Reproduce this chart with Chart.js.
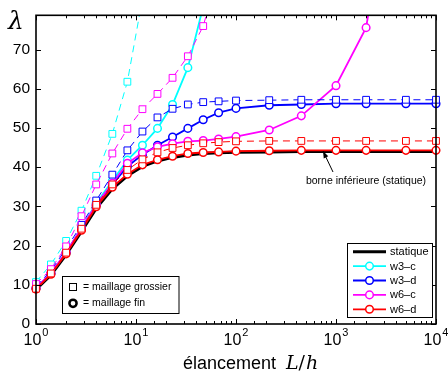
<!DOCTYPE html>
<html lang="fr">
<head>
  <meta charset="UTF-8">
  <title>élancement</title>
  <script src="https://cdn.jsdelivr.net/npm/chart.js"></script>
  <style>
    body { margin: 0; background: #fff; }
    #wrap { width: 448px; height: 372px; }
  </style>
</head>
<body>
  <div id="wrap"><canvas id="chart" width="448" height="372"></canvas></div>

  <script>
    // élancement L/h
    const xVals = [1, 1.41, 2, 2.85, 4, 5.8, 8.2, 11.6, 16.4, 23.2, 33, 47, 67, 100, 215, 450, 1000, 2000, 5000, 10000];

    const statique = [8.8, 12.5, 17.7, 23.6, 29.5, 34.5, 37.8, 40.2, 41.6, 42.5, 43.1, 43.5, 43.7, 43.8, 43.9, 44.0, 44.0, 44.0, 44.0, 44.0];

    // maillage fin (cercles)
    const w3cFin = [9.1, 12.9, 18.2, 24.5, 30.8, 36.5, 41.8, 45.6, 49.9, 56.0, 65.4, 81, null, null, null, null, null, null, null, null];
    const w3dFin = [9.1, 12.9, 18.2, 24.3, 30.3, 35.6, 40.2, 43.2, 45.6, 47.7, 49.9, 52.1, 53.9, 55.0, 55.8, 56.0, 56.2, 56.2, 56.2, 56.2];
    const w6cFin = [9.2, 13.0, 18.3, 24.4, 30.5, 35.9, 41.0, 43.7, 45.2, 46.0, 46.6, 46.8, 47.2, 47.8, 49.5, 53.1, 60.8, 75.6, 137, null];
    const w6dFin = [8.9, 12.7, 17.9, 23.9, 29.9, 34.9, 38.2, 40.6, 41.9, 42.8, 43.5, 43.75, 43.9, 44.1, 44.2, 44.3, 44.3, 44.3, 44.3, 44.3];

    // maillage grossier (carrés)
    const w3cGros = [10.7, 15.2, 21.2, 28.9, 37.8, 48.5, 61.8, 83, null, null, null, null, null, null, null, null, null, null, null, null];
    const w3dGros = [9.6, 13.6, 19.2, 25.3, 31.5, 38.1, 44.3, 49.1, 52.7, 54.9, 56.0, 56.6, 56.8, 57.0, 57.1, 57.2, 57.2, 57.2, 57.2, 57.2];
    const w6cGros = [10.2, 14.0, 19.8, 27.5, 35.6, 43.5, 49.8, 54.8, 58.7, 62.8, 68.3, 76.0, 90, null, null, null, null, null, null, null];
    const w6dGros = [9.0, 12.9, 18.2, 24.3, 30.4, 35.6, 39.3, 42.0, 43.8, 44.9, 45.6, 46.1, 46.4, 46.6, 46.7, 46.7, 46.7, 46.7, 46.7, 46.7];

    const yTicks = [0, 10, 20, 30, 40, 50, 60, 70];
    const xPowers = [0, 1, 2, 3, 4];

    const seriesNames = ['statique', 'w3–c', 'w3–d', 'w6–c', 'w6–d'];
    const seriesColors = ['#000000', '#00ffff', '#0000ff', '#ff00ff', '#ff0000'];

    const SANS = '"Liberation Sans", Arial, sans-serif';
    const SERIF = '"DejaVu Serif", serif';

    function pts(ys) {
      return xVals.map((x, i) => ({ x: x, y: ys[i] })).filter(p => p.y !== null);
    }

    function fin(label, ys, color, order) {
      return {
        label: label, data: pts(ys), order: order,
        borderColor: color, borderWidth: 1.8,
        pointStyle: 'circle', pointRadius: 3.8, pointBorderWidth: 1.5,
        pointBorderColor: color, pointBackgroundColor: '#fff',
        clip: { left: 8, right: 8, top: 0, bottom: 8 }
      };
    }

    function gros(label, ys, color, order) {
      return {
        label: label, data: pts(ys), order: order,
        borderColor: color, borderWidth: 1, borderDash: [7, 5],
        pointStyle: 'rect', pointRadius: 4.8, pointBorderWidth: 1,
        pointBorderColor: color, pointBackgroundColor: '#fff',
        clip: { left: 8, right: 8, top: 0, bottom: 8 }
      };
    }

    const datasets = [
      {
        label: 'statique', data: pts(statique), order: 8,
        borderColor: '#000', borderWidth: 3, pointRadius: 0,
        clip: { left: 8, right: 8, top: 0, bottom: 8 }
      },
      fin('w3-c fin', w3cFin, '#00ffff', 7),
      fin('w3-d fin', w3dFin, '#0000ff', 6),
      fin('w6-c fin', w6cFin, '#ff00ff', 5),
      fin('w6-d fin', w6dFin, '#ff0000', 4),
      gros('w3-c grossier', w3cGros, '#00ffff', 3),
      gros('w3-d grossier', w3dGros, '#0000ff', 2),
      gros('w6-c grossier', w6cGros, '#ff00ff', 1),
      gros('w6-d grossier', w6dGros, '#ff0000', 0)
    ];

    // boîte, graduations, légendes, annotation
    const decor = {
      id: 'decor',
      afterDraw(chart) {
        const ctx = chart.ctx;
        const a = chart.chartArea;
        const xs = chart.scales.x;
        const ys = chart.scales.y;
        ctx.save();

        // graduations vers l'intérieur
        ctx.strokeStyle = '#000';
        ctx.lineWidth = 1;
        xs.ticks.forEach(t => {
          const px = Math.round(xs.getPixelForValue(t.value)) + 0.5;
          const lg = Math.log10(t.value);
          const len = Math.abs(lg - Math.round(lg)) < 1e-6 ? 5 : 3;
          ctx.beginPath();
          ctx.moveTo(px, a.bottom); ctx.lineTo(px, a.bottom - len);
          ctx.moveTo(px, a.top); ctx.lineTo(px, a.top + len);
          ctx.stroke();
        });
        yTicks.forEach(v => {
          const py = Math.round(ys.getPixelForValue(v)) + 0.5;
          ctx.beginPath();
          ctx.moveTo(a.left, py); ctx.lineTo(a.left + 5, py);
          ctx.moveTo(a.right, py); ctx.lineTo(a.right - 5, py);
          ctx.stroke();
        });

        // cadre
        ctx.lineWidth = 1.6;
        ctx.strokeRect(a.left, a.top, a.right - a.left, a.bottom - a.top);

        // étiquettes 10^n
        ctx.fillStyle = '#000';
        ctx.textBaseline = 'alphabetic';
        xPowers.forEach(p => {
          const px = xs.getPixelForValue(Math.pow(10, p));
          ctx.font = '16px ' + SANS;
          const wBase = ctx.measureText('10').width;
          ctx.font = '11px ' + SANS;
          const wExp = ctx.measureText(String(p)).width;
          const x0 = px - (wBase + 1 + wExp) / 2;
          ctx.font = '16px ' + SANS;
          ctx.textAlign = 'left';
          ctx.fillText('10', x0, 344.5);
          ctx.font = '11px ' + SANS;
          ctx.fillText(String(p), x0 + wBase + 1, 336);
        });

        // titre de l'axe x
        ctx.font = '18px ' + SANS;
        ctx.textAlign = 'left';
        ctx.fillText('élancement', 183, 369);
        let tx = 286;
        ctx.font = 'italic 19px ' + SERIF;
        ctx.fillText('L', tx, 369);
        tx += ctx.measureText('L').width;
        ctx.font = '19px ' + SERIF;
        ctx.fillText('/', tx, 369);
        tx += ctx.measureText('/').width + 1;
        ctx.font = 'italic 19px ' + SERIF;
        ctx.fillText('h', tx, 369);

        // lambda
        ctx.font = 'italic 25px ' + SERIF;
        ctx.fillText('λ', 8, 29);

        // annotation
        ctx.font = '10.5px ' + SANS;
        ctx.textAlign = 'center';
        ctx.textBaseline = 'middle';
        ctx.fillText('borne inférieure (statique)', 366, 181);
        const ax0 = 333, ay0 = 172, ax1 = 323, ay1 = 151;
        ctx.lineWidth = 1;
        ctx.beginPath();
        ctx.moveTo(ax0, ay0); ctx.lineTo(ax1, ay1);
        ctx.stroke();
        const ang = Math.atan2(ay1 - ay0, ax1 - ax0);
        ctx.beginPath();
        ctx.moveTo(ax1, ay1);
        ctx.lineTo(ax1 - 7 * Math.cos(ang) + 2.5 * Math.sin(ang), ay1 - 7 * Math.sin(ang) - 2.5 * Math.cos(ang));
        ctx.lineTo(ax1 - 7 * Math.cos(ang) - 2.5 * Math.sin(ang), ay1 - 7 * Math.sin(ang) + 2.5 * Math.cos(ang));
        ctx.closePath();
        ctx.fill();

        // légende des séries
        ctx.fillStyle = '#fff';
        ctx.fillRect(347.5, 243.5, 85, 74);
        ctx.strokeStyle = '#000';
        ctx.lineWidth = 1;
        ctx.strokeRect(347.5, 243.5, 85, 74);
        ctx.font = '11px ' + SANS;
        ctx.textAlign = 'left';
        ctx.textBaseline = 'middle';
        seriesNames.forEach((name, i) => {
          const y = 251.7 + i * 14.4;
          ctx.strokeStyle = seriesColors[i];
          ctx.lineWidth = i === 0 ? 3 : 1.8;
          ctx.beginPath();
          ctx.moveTo(353, y); ctx.lineTo(386, y);
          ctx.stroke();
          if (i > 0) {
            ctx.fillStyle = '#fff';
            ctx.lineWidth = 1.5;
            ctx.beginPath();
            ctx.arc(369.5, y, 3.8, 0, Math.PI * 2);
            ctx.fill();
            ctx.stroke();
          }
          ctx.fillStyle = '#000';
          ctx.fillText(name, 390, y + 0.5);
        });

        // légende des maillages
        ctx.fillStyle = '#fff';
        ctx.fillRect(62.5, 276.5, 116.5, 37);
        ctx.strokeStyle = '#000';
        ctx.lineWidth = 1;
        ctx.strokeRect(62.5, 276.5, 116.5, 37);
        ctx.strokeRect(69.5, 283.5, 7, 7);
        ctx.lineWidth = 2.5;
        ctx.beginPath();
        ctx.arc(73, 303.3, 3.6, 0, Math.PI * 2);
        ctx.stroke();
        ctx.fillStyle = '#000';
        ctx.font = '10.5px ' + SANS;
        ctx.fillText('= maillage grossier', 83, 287.5);
        ctx.fillText('= maillage fin', 83, 303.5);

        ctx.restore();
      }
    };

    new Chart(document.getElementById('chart').getContext('2d'), {
      type: 'line',
      data: { datasets: datasets },
      options: {
        responsive: false,
        animation: false,
        layout: { padding: { left: 0, top: 9, right: 12, bottom: 0 } },
        plugins: { legend: { display: false }, tooltip: { enabled: false } },
        elements: { line: { tension: 0 } },
        scales: {
          x: {
            type: 'logarithmic', min: 1, max: 10000,
            grid: { display: false }, border: { display: false },
            ticks: { display: false, autoSkip: false },
            afterFit(scale) { scale.height = 48; }
          },
          y: {
            type: 'linear', min: 0, max: 78.75,
            grid: { display: false, drawTicks: false }, border: { display: false },
            ticks: {
              stepSize: 10, includeBounds: false, padding: 6, color: '#000',
              font: { family: SANS, size: 15.5 }
            },
            afterBuildTicks(scale) { scale.ticks = yTicks.map(v => ({ value: v })); },
            afterFit(scale) { scale.width = 36; }
          }
        }
      },
      plugins: [decor]
    });
  </script>
</body>
</html>
